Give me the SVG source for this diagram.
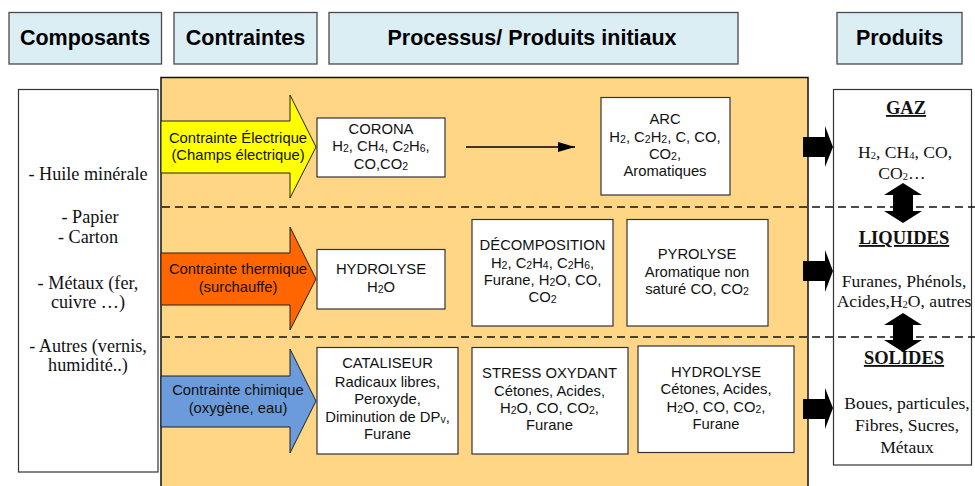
<svg xmlns="http://www.w3.org/2000/svg" width="975" height="486" viewBox="0 0 975 486">
<style>
.hdr{fill:#DBEEF4;stroke:#4a4a4a;stroke-width:1.3}
.ht{font-family:"Liberation Sans",Arial,sans-serif;font-weight:bold;font-size:21.5px;text-anchor:middle;fill:#000}
.box{fill:#fff;stroke:#333;stroke-width:1.2}
.t{font-family:"Liberation Sans",Arial,sans-serif;font-size:14.8px;text-anchor:middle;fill:#111}
.sr{font-family:"Liberation Serif","Times New Roman",serif;font-size:17.6px;text-anchor:middle;fill:#111}
.sl{font-family:"Liberation Serif","Times New Roman",serif;font-size:18.2px;text-anchor:middle;fill:#111}
.sb{font-family:"Liberation Serif","Times New Roman",serif;font-size:18.5px;font-weight:bold;text-anchor:middle;text-decoration:underline;fill:#111}
.s{font-size:10.5px;baseline-shift:-1px}
.barrow{stroke:#222;stroke-width:1}
.dash{stroke:#111;stroke-width:1.3;stroke-dasharray:8,5;fill:none}
.blk{fill:#000}
</style>
<defs>
<marker id="ah" viewBox="0 0 17 10" refX="17" refY="5" markerWidth="17" markerHeight="10" markerUnits="userSpaceOnUse" orient="auto">
<path d="M0,0 L17,5 L0,10 Z" fill="#000"/>
</marker>
</defs>

<g id="headers">
<g id="h-composants"><rect class="hdr" x="9" y="12.5" width="152.5" height="51.5"/><text class="ht" x="85" y="45">Composants</text></g>
<g id="h-contraintes"><rect class="hdr" x="174" y="12.5" width="143" height="51.5"/><text class="ht" x="245.5" y="45">Contraintes</text></g>
<g id="h-processus"><rect class="hdr" x="329" y="12.5" width="409" height="51.5"/><text class="ht" x="532" y="45">Processus/ Produits initiaux</text></g>
<g id="h-produits"><rect class="hdr" x="837" y="12.5" width="125" height="51.5"/><text class="ht" x="899.5" y="45">Produits</text></g>
</g>

<g id="panel"><rect x="161" y="77.5" width="647" height="415" fill="#FFD685" stroke="#111" stroke-width="1.5"/></g>

<g id="composants">
<rect class="box" x="18.5" y="89.5" width="139.5" height="382.5" stroke="#111"/>
<text class="sl" x="88" y="180">- Huile minérale</text>
<text class="sl" x="90" y="223">- Papier</text>
<text class="sl" x="88" y="243">- Carton</text>
<text class="sl" x="88" y="289">- Métaux (fer,</text>
<text class="sl" x="88" y="308">cuivre …)</text>
<text class="sl" x="88" y="352">- Autres (vernis,</text>
<text class="sl" x="88" y="371">humidité..)</text>
</g>

<g id="produits">
<rect class="box" x="833.5" y="89.5" width="138" height="375.5" stroke="#111"/>
<text class="sb" x="906" y="114">GAZ</text>
<text class="sr" x="905" y="158">H<tspan class="s">2</tspan>, CH<tspan class="s">4</tspan>, CO,</text>
<text class="sr" x="902" y="179">CO<tspan class="s">2</tspan>…</text>
<text class="sb" x="904" y="244">LIQUIDES</text>
<text class="sr" x="904" y="287">Furanes, Phénols,</text>
<text class="sr" x="904" y="307">Acides,H<tspan class="s">2</tspan>O, autres</text>
<text class="sb" x="904" y="364">SOLIDES</text>
<text class="sr" x="907" y="409">Boues, particules,</text>
<text class="sr" x="907" y="431">Fibres, Sucres,</text>
<text class="sr" x="907" y="453">Métaux</text>
</g>

<g id="separators">
<line class="dash" x1="162" y1="207" x2="975" y2="207"/>
<line class="dash" x1="162" y1="337" x2="975" y2="337"/>
</g>

<g id="a-electrique">
<path class="barrow" fill="#FFFF00" d="M161,121 L290,121 L290,95 L316,147 L290,198 L290,173 L161,173 Z"/>
<text class="t" x="238" y="143">Contrainte Électrique</text>
<text class="t" x="238" y="160">(Champs électrique)</text>
</g>
<g id="a-thermique">
<path class="barrow" fill="#FF6600" d="M161,253 L290,253 L290,227 L316,279 L290,330 L290,305 L161,305 Z"/>
<text class="t" x="238" y="274">Contrainte thermique</text>
<text class="t" x="238" y="292">(surchauffe)</text>
</g>
<g id="a-chimique">
<path class="barrow" fill="#6B9BDA" d="M161,376 L290,376 L290,349 L316,401 L290,453 L290,427 L161,427 Z"/>
<text class="t" x="238" y="395">Contrainte chimique</text>
<text class="t" x="238" y="413">(oxygène, eau)</text>
</g>

<g id="corona">
<rect class="box" x="317" y="118" width="128" height="59"/>
<text class="t" x="381" y="134">CORONA</text>
<text class="t" x="381" y="151">H<tspan class="s">2</tspan>, CH<tspan class="s">4</tspan>, C<tspan class="s">2</tspan>H<tspan class="s">6</tspan>,</text>
<text class="t" x="381" y="169">CO,CO<tspan class="s">2</tspan></text>
</g>
<g id="arc">
<rect class="box" x="601" y="97.5" width="129" height="97.5"/>
<text class="t" x="665" y="124">ARC</text>
<text class="t" x="665" y="142">H<tspan class="s">2</tspan>, C<tspan class="s">2</tspan>H<tspan class="s">2</tspan>, C, CO,</text>
<text class="t" x="665" y="159">CO<tspan class="s">2</tspan>,</text>
<text class="t" x="665" y="176">Aromatiques</text>
</g>
<g id="hydrolyse1">
<rect class="box" x="317" y="249.5" width="128" height="59.5"/>
<text class="t" x="381" y="274">HYDROLYSE</text>
<text class="t" x="381" y="292">H<tspan class="s">2</tspan>O</text>
</g>
<g id="decomposition">
<rect class="box" x="472" y="219.5" width="141" height="106.5"/>
<text class="t" x="542.5" y="250">DÉCOMPOSITION</text>
<text class="t" x="542.5" y="268">H<tspan class="s">2</tspan>, C<tspan class="s">2</tspan>H<tspan class="s">4</tspan>, C<tspan class="s">2</tspan>H<tspan class="s">6</tspan>,</text>
<text class="t" x="542.5" y="285">Furane, H<tspan class="s">2</tspan>O, CO,</text>
<text class="t" x="542.5" y="302">CO<tspan class="s">2</tspan></text>
</g>
<g id="pyrolyse">
<rect class="box" x="627" y="219.5" width="141" height="106.5"/>
<text class="t" x="697" y="259">PYROLYSE</text>
<text class="t" x="697" y="277">Aromatique non</text>
<text class="t" x="697" y="294">saturé CO, CO<tspan class="s">2</tspan></text>
</g>
<g id="cataliseur">
<rect class="box" x="317" y="347.5" width="141" height="106.5"/>
<text class="t" x="387.5" y="368">CATALISEUR</text>
<text class="t" x="387.5" y="387">Radicaux libres,</text>
<text class="t" x="387.5" y="404">Peroxyde,</text>
<text class="t" x="387.5" y="422">Diminution de DP<tspan class="s">v</tspan>,</text>
<text class="t" x="387.5" y="439">Furane</text>
</g>
<g id="stress">
<rect class="box" x="472" y="347.5" width="156" height="106.5"/>
<text class="t" x="549.5" y="378">STRESS OXYDANT</text>
<text class="t" x="549.5" y="396">Cétones, Acides,</text>
<text class="t" x="549.5" y="413">H<tspan class="s">2</tspan>O, CO, CO<tspan class="s">2</tspan>,</text>
<text class="t" x="549.5" y="430">Furane</text>
</g>
<g id="hydrolyse2">
<rect class="box" x="638" y="346" width="156" height="106.5"/>
<text class="t" x="716" y="377">HYDROLYSE</text>
<text class="t" x="716" y="394">Cétones, Acides,</text>
<text class="t" x="716" y="412">H<tspan class="s">2</tspan>O, CO, CO<tspan class="s">2</tspan>,</text>
<text class="t" x="716" y="429">Furane</text>
</g>

<g id="connectors">
<line x1="466" y1="147" x2="575" y2="147" stroke="#000" stroke-width="1.3" marker-end="url(#ah)"/>
<path class="blk" d="M803,137 L825,137 L825,126 L833,147 L825,167 L825,157 L803,157 Z"/>
<path class="blk" d="M803,261 L825,261 L825,250 L833,271 L825,292 L825,281 L803,281 Z"/>
<path class="blk" d="M803,399 L825,399 L825,388 L833,408 L825,429 L825,419 L803,419 Z"/>
<path class="blk" d="M903,183 L922,195 L913,195 L913,211 L922,211 L903,223 L884,211 L893,211 L893,195 L884,195 Z"/>
<path class="blk" d="M903,313 L922,325 L913,325 L913,340 L922,340 L903,352 L884,340 L893,340 L893,325 L884,325 Z"/>
</g>
</svg>
